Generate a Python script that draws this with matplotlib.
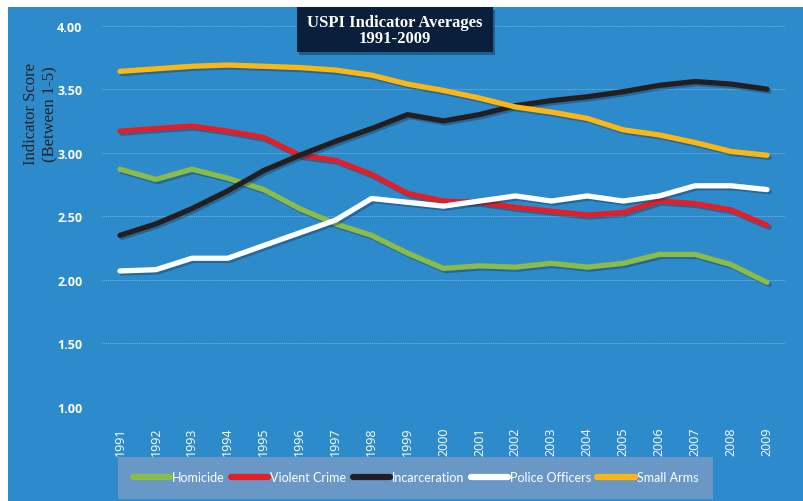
import matplotlib
matplotlib.use("Agg")
import matplotlib.pyplot as plt
import matplotlib.patheffects as pe
from matplotlib.patches import Rectangle

# data
years = [str(y) for y in range(1991, 2010)]
homicide = [2.87, 2.79, 2.87, 2.80, 2.71, 2.56, 2.44, 2.35, 2.21, 2.09,
            2.11, 2.10, 2.13, 2.10, 2.13, 2.20, 2.20, 2.12, 1.98]
violent_crime = [3.17, 3.19, 3.21, 3.17, 3.12, 2.98, 2.94, 2.83, 2.68, 2.62,
                 2.61, 2.57, 2.54, 2.51, 2.53, 2.62, 2.60, 2.55, 2.43]
incarceration = [2.35, 2.44, 2.56, 2.70, 2.86, 2.98, 3.09, 3.19, 3.30, 3.25,
                 3.30, 3.37, 3.41, 3.44, 3.48, 3.53, 3.56, 3.54, 3.50]
police_officers = [2.07, 2.08, 2.17, 2.17, 2.27, 2.37, 2.47, 2.64, 2.61, 2.58,
                   2.62, 2.66, 2.62, 2.66, 2.62, 2.66, 2.74, 2.74, 2.71]
small_arms = [3.64, 3.66, 3.68, 3.69, 3.68, 3.67, 3.65, 3.61, 3.54, 3.49,
              3.43, 3.36, 3.32, 3.27, 3.18, 3.14, 3.08, 3.01, 2.98]
yticks = [1.0, 1.5, 2.0, 2.5, 3.0, 3.5, 4.0]

series = [("Homicide", homicide, "#8cbc48"),
          ("Violent Crime", violent_crime, "#e31e26"),
          ("Incarceration", incarceration, "#231f20"),
          ("Police Officers", police_officers, "#ffffff"),
          ("Small Arms", small_arms, "#fdb714")]

W, H = 804, 502
bg = "#2e8bcb"

fig = plt.figure(figsize=(W / 100, H / 100), dpi=100, facecolor="white")
fig.patches.append(Rectangle((8 / W, 0), 1 - 8 / W, 1 - 8 / H, transform=fig.transFigure,
                             facecolor=bg, edgecolor="none", zorder=-10))

ax = fig.add_axes([102 / W, 1 - 408 / H, (785 - 102) / W, (408 - 26.6) / H])
ax.set_facecolor("none")

x = range(len(years))
shadow = [pe.SimpleLineShadow(offset=(1.5, -1.5), shadow_color="#0b2a48", alpha=0.35),
          pe.Normal()]
for name, vals, col in series:
    ax.plot(x, vals, color=col, lw=3.8, label=name, solid_capstyle="round",
            solid_joinstyle="round", path_effects=shadow)

ax.set_xlim(-0.5, 18.5)
ax.set_ylim(1, 4)
ax.set_yticks(yticks)
ax.set_yticklabels([f"{v:.2f}" for v in yticks], color="white", fontweight="bold",
                   fontfamily="Open Sans", fontsize=9)
ax.set_xticks(list(x))
ax.set_xticklabels(years, rotation=90, color="white", fontfamily="Open Sans", fontsize=9)
ax.tick_params(axis="y", length=0, pad=14)
ax.tick_params(axis="x", length=0, pad=14)
ax.grid(axis="y", color="#8dbfe6", linestyle=(0, (1, 1.2)), linewidth=0.6)
ax.set_axisbelow(True)
for s in ax.spines.values():
    s.set_visible(False)

leg = fig.legend(loc="center", bbox_to_anchor=(415.5 / W, 1 - 478.5 / H), ncol=5,
                 frameon=True, fancybox=False, handlelength=3.0, handletextpad=0.15,
                 columnspacing=0.5, borderpad=1.2,
                 prop={"family": "Lato", "size": 9})
leg.get_frame().set_facecolor("#6a98c6")
leg.get_frame().set_edgecolor("none")
leg.get_frame().set_alpha(1)
for t in leg.get_texts():
    t.set_color("white")
for h in leg.get_lines():
    h.set_linewidth(4.5)
    h.set_path_effects([])

# title box
fig.patches.append(Rectangle((299 / W, 1 - 56 / H), 196 / W, 45 / H, transform=fig.transFigure,
                             facecolor="#123456", alpha=0.5, edgecolor="none", zorder=5))
fig.patches.append(Rectangle((297 / W, 1 - 53 / H), 196 / W, 45 / H, transform=fig.transFigure,
                             facecolor="#0a1f3b", edgecolor="none", zorder=6))
fig.text(395 / W, 1 - 31 / H, "USPI Indicator Averages\n1991-2009", ha="center", va="center",
         color="white", fontfamily="Liberation Serif", fontweight="bold", fontsize=12,
         linespacing=1.0, zorder=7)

fig.text(41 / W, 1 - 114 / H, "Indicator Score\n(Between 1-5)", rotation=90, ha="center",
         va="center", color="#222222", fontfamily="Liberation Serif", fontsize=12,
         linespacing=1.3)

fig.savefig("out.png", dpi=100, facecolor="white")
